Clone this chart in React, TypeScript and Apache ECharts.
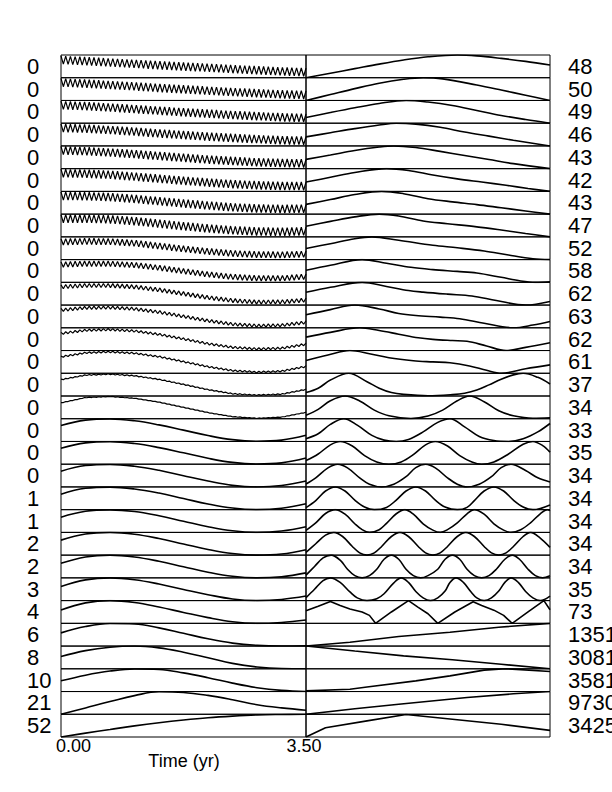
import React, { useEffect, useRef } from "react";
import * as echarts from "echarts";

const LEFT_LABELS = ["0","0","0","0","0","0","0","0","0","0","0","0","0","0","0","0","0","0","0","1","1","2","2","3","4","6","8","10","21","52"];
const RIGHT_LABELS = ["48","50","49","46","43","42","43","47","52","58","62","63","62","61","37","34","33","35","34","34","34","34","34","35","73","1351","3081","3581","9730","3425"];
const TIME_TICKS = ["0.00", "3.50"];
const X_TITLE = "Time (yr)";
const TIME_MAX = 3.5;
const TREND_TIMES = [0, 0.35, 0.7, 1.05, 1.4, 1.75, 2.1, 2.45, 2.8, 3.15, 3.5];

const LEFT_TREND = [
  [0.78,0.73,0.67,0.61,0.55,0.49,0.44,0.38,0.33,0.28,0.24],
  [0.79,0.74,0.68,0.62,0.55,0.49,0.43,0.37,0.32,0.27,0.24],
  [0.79,0.75,0.69,0.62,0.55,0.48,0.42,0.36,0.31,0.26,0.23],
  [0.79,0.76,0.70,0.63,0.55,0.48,0.41,0.35,0.30,0.25,0.23],
  [0.80,0.77,0.71,0.64,0.56,0.48,0.40,0.34,0.28,0.25,0.23],
  [0.80,0.78,0.73,0.65,0.56,0.47,0.39,0.32,0.27,0.24,0.23],
  [0.80,0.79,0.75,0.67,0.57,0.47,0.38,0.30,0.25,0.23,0.24],
  [0.80,0.80,0.77,0.69,0.58,0.47,0.37,0.29,0.24,0.22,0.25],
  [0.78,0.80,0.79,0.72,0.60,0.47,0.36,0.27,0.22,0.21,0.24],
  [0.78,0.82,0.82,0.76,0.64,0.49,0.35,0.24,0.18,0.18,0.25],
  [0.80,0.86,0.86,0.80,0.67,0.50,0.33,0.20,0.13,0.14,0.22],
  [0.78,0.88,0.89,0.83,0.69,0.50,0.31,0.16,0.09,0.11,0.24],
  [0.75,0.89,0.92,0.86,0.71,0.51,0.30,0.14,0.07,0.10,0.28],
  [0.72,0.90,0.94,0.88,0.73,0.51,0.29,0.12,0.05,0.09,0.30],
  [0.72,0.92,0.96,0.89,0.73,0.51,0.28,0.10,0.04,0.08,0.29],
  [0.70,0.93,0.98,0.90,0.73,0.50,0.27,0.09,0.02,0.07,0.28],
  [0.70,0.94,0.99,0.91,0.73,0.50,0.26,0.08,0.01,0.06,0.27],
  [0.70,0.94,0.99,0.91,0.73,0.50,0.26,0.08,0.01,0.06,0.27],
  [0.69,0.94,0.99,0.91,0.73,0.49,0.26,0.07,0.00,0.06,0.26],
  [0.68,0.94,0.99,0.91,0.73,0.49,0.25,0.07,0.00,0.06,0.26],
  [0.67,0.93,0.99,0.92,0.73,0.49,0.25,0.07,0.00,0.06,0.25],
  [0.66,0.93,1.00,0.92,0.73,0.49,0.25,0.07,0.00,0.05,0.24],
  [0.64,0.92,1.00,0.92,0.73,0.49,0.25,0.07,0.00,0.05,0.22],
  [0.62,0.91,1.00,0.92,0.73,0.49,0.26,0.07,0.00,0.05,0.20],
  [0.59,0.90,1.00,0.92,0.72,0.48,0.25,0.07,0.00,0.04,0.15],
  [0.58,0.86,0.99,0.97,0.80,0.56,0.32,0.13,0.03,0.00,0.01],
  [0.54,0.80,0.95,1.00,0.92,0.73,0.49,0.24,0.08,0.01,0.00],
  [0.47,0.72,0.90,0.99,0.97,0.82,0.61,0.37,0.17,0.05,0.00],
  [0.00,0.28,0.56,0.82,0.99,0.96,0.83,0.64,0.42,0.28,0.18],
  [0.00,0.17,0.33,0.49,0.63,0.75,0.85,0.92,0.97,0.99,1.00],
];

// seasonal ripple riding on the trend of the upper panels
const RIPPLE_AMP = [0.18,0.18,0.18,0.18,0.18,0.18,0.18,0.18,0.14,0.12,0.09,0.07,0.05,0.035,0.02,0.01,0,0,0,0,0,0,0,0,0,0,0,0,0,0];
const RIPPLE_CYCLES = 52;

const RIGHT_CURVES: number[][][] = [
  [[0,0],[0.1,0.2],[0.2,0.4],[0.3,0.6],[0.4,0.78],[0.5,0.92],[0.62,1],[0.7,0.96],[0.8,0.85],[0.9,0.72],[1,0.56]],
  [[0,0],[0.1,0.26],[0.2,0.52],[0.3,0.76],[0.4,0.93],[0.48,1],[0.56,0.95],[0.7,0.68],[0.8,0.46],[0.9,0.23],[1,0]],
  [[0,0.25],[0.1,0.47],[0.2,0.68],[0.3,0.87],[0.41,1],[0.5,0.93],[0.6,0.78],[0.7,0.56],[0.8,0.34],[0.9,0.16],[1,0]],
  [[0,0.4],[0.1,0.58],[0.2,0.76],[0.3,0.92],[0.37,1],[0.45,0.96],[0.55,0.82],[0.65,0.61],[0.75,0.43],[0.85,0.25],[1,0]],
  [[0,0.41],[0.1,0.6],[0.2,0.8],[0.3,0.95],[0.36,1],[0.45,0.93],[0.55,0.76],[0.65,0.58],[0.75,0.4],[0.85,0.22],[1,0]],
  [[0,0.41],[0.1,0.62],[0.2,0.83],[0.33,1],[0.42,0.92],[0.52,0.72],[0.62,0.55],[0.72,0.41],[0.82,0.27],[0.91,0.13],[1,0]],
  [[0,0.43],[0.1,0.64],[0.2,0.86],[0.31,1],[0.4,0.9],[0.5,0.68],[0.6,0.54],[0.7,0.42],[0.8,0.28],[0.9,0.14],[1,0]],
  [[0,0.47],[0.1,0.68],[0.2,0.88],[0.3,1],[0.38,0.92],[0.48,0.7],[0.58,0.58],[0.7,0.44],[0.8,0.3],[0.9,0.15],[1,0]],
  [[0,0.49],[0.1,0.7],[0.2,0.92],[0.27,1],[0.38,0.85],[0.52,0.63],[0.62,0.52],[0.73,0.38],[0.83,0.2],[0.93,0.04],[1,0]],
  [[0,0.53],[0.1,0.75],[0.23,1],[0.33,0.84],[0.43,0.66],[0.52,0.56],[0.62,0.48],[0.7,0.41],[0.8,0.22],[0.88,0.06],[0.94,0],[1,0.02]],
  [[0,0.56],[0.1,0.78],[0.23,1],[0.33,0.82],[0.42,0.64],[0.48,0.57],[0.58,0.48],[0.68,0.4],[0.78,0.2],[0.9,0],[1,0.16]],
  [[0,0.57],[0.1,0.8],[0.2,1],[0.3,0.83],[0.38,0.63],[0.45,0.54],[0.55,0.47],[0.63,0.4],[0.73,0.2],[0.85,0],[0.93,0.12],[1,0.28]],
  [[0,0.59],[0.1,0.8],[0.22,1],[0.3,0.88],[0.38,0.72],[0.46,0.56],[0.52,0.49],[0.6,0.44],[0.66,0.41],[0.74,0.2],[0.82,0],[0.9,0.14],[1,0.34]],
  [[0,0.56],[0.09,0.8],[0.18,1],[0.26,0.86],[0.34,0.68],[0.44,0.55],[0.52,0.5],[0.59,0.46],[0.67,0.32],[0.74,0.13],[0.8,0],[0.9,0.2],[1,0.37]],
  [[0,0.15],[0.05,0.34],[0.1,0.7],[0.175,1],[0.25,0.63],[0.3,0.34],[0.35,0.15],[0.4,0.07],[0.5,0.01],[0.6,0.06],[0.65,0.12],[0.7,0.26],[0.75,0.49],[0.8,0.74],[0.85,0.93],[0.89,1],[0.95,0.82],[1,0.53]],
  [[0,0.15],[0.05,0.41],[0.1,0.79],[0.16,1],[0.22,0.78],[0.28,0.38],[0.34,0.13],[0.43,0.01],[0.5,0.12],[0.56,0.38],[0.62,0.79],[0.67,1],[0.73,0.75],[0.79,0.35],[0.85,0.13],[0.93,0.02],[1,0.04]],
  [[0,0.12],[0.05,0.34],[0.1,0.75],[0.155,1],[0.21,0.72],[0.27,0.27],[0.32,0.06],[0.37,0],[0.42,0.09],[0.48,0.42],[0.54,0.84],[0.59,1],[0.65,0.64],[0.71,0.22],[0.77,0.04],[0.83,0],[0.89,0.12],[0.95,0.42],[1,0.79]],
  [[0,0.16],[0.05,0.45],[0.1,0.85],[0.14,1],[0.19,0.8],[0.24,0.38],[0.29,0.1],[0.34,0],[0.39,0.1],[0.44,0.42],[0.49,0.85],[0.53,1],[0.58,0.8],[0.63,0.38],[0.68,0.1],[0.72,0],[0.77,0.1],[0.83,0.45],[0.89,0.88],[0.93,1],[0.97,0.82],[1,0.53]],
  [[0,0.13],[0.04,0.4],[0.09,0.84],[0.13,1],[0.17,0.84],[0.22,0.4],[0.26,0.12],[0.31,0],[0.36,0.12],[0.41,0.45],[0.45,0.85],[0.49,1],[0.53,0.84],[0.58,0.4],[0.62,0.12],[0.66,0],[0.71,0.12],[0.76,0.45],[0.8,0.85],[0.84,1],[0.9,0.72],[0.95,0.4],[1,0.22]],
  [[0,0.09],[0.04,0.4],[0.08,0.82],[0.12,1],[0.16,0.82],[0.2,0.42],[0.24,0.12],[0.28,0],[0.33,0.1],[0.37,0.42],[0.41,0.82],[0.45,1],[0.49,0.82],[0.53,0.42],[0.57,0.12],[0.62,0],[0.66,0.1],[0.69,0.4],[0.73,0.82],[0.77,1],[0.81,0.82],[0.85,0.42],[0.89,0.12],[0.93,0],[1,0.21]],
  [[0,0.09],[0.04,0.42],[0.08,0.83],[0.12,1],[0.16,0.8],[0.2,0.38],[0.23,0.12],[0.26,0],[0.3,0.12],[0.33,0.4],[0.37,0.82],[0.405,1],[0.44,0.8],[0.48,0.38],[0.52,0.1],[0.55,0],[0.58,0.12],[0.62,0.42],[0.66,0.82],[0.69,1],[0.73,0.8],[0.77,0.38],[0.81,0.1],[0.84,0],[0.88,0.12],[0.92,0.42],[0.96,0.82],[0.99,1],[1,0.96]],
  [[0,0.12],[0.04,0.5],[0.08,0.88],[0.114,1],[0.15,0.82],[0.19,0.38],[0.22,0.1],[0.25,0],[0.28,0.1],[0.31,0.38],[0.35,0.82],[0.385,1],[0.42,0.82],[0.46,0.38],[0.49,0.1],[0.52,0],[0.55,0.1],[0.58,0.38],[0.62,0.82],[0.655,1],[0.69,0.82],[0.73,0.38],[0.76,0.1],[0.79,0],[0.82,0.1],[0.85,0.38],[0.89,0.82],[0.92,1],[0.96,0.75],[1,0.34]],
  [[0,0.12],[0.035,0.5],[0.07,0.88],[0.103,1],[0.14,0.78],[0.17,0.38],[0.2,0.1],[0.23,0],[0.26,0.1],[0.29,0.38],[0.32,0.82],[0.35,1],[0.38,0.82],[0.41,0.38],[0.44,0.1],[0.47,0],[0.5,0.1],[0.54,0.38],[0.57,0.82],[0.6,1],[0.63,0.82],[0.66,0.38],[0.69,0.1],[0.72,0],[0.75,0.1],[0.78,0.38],[0.815,0.82],[0.845,1],[0.875,0.82],[0.91,0.38],[0.94,0.1],[0.97,0],[1,0.09]],
  [[0,0.13],[0.035,0.5],[0.07,0.88],[0.1,1],[0.14,0.8],[0.18,0.38],[0.21,0.12],[0.25,0],[0.29,0.08],[0.32,0.3],[0.36,0.78],[0.39,1],[0.42,0.8],[0.45,0.4],[0.48,0.12],[0.51,0],[0.54,0.12],[0.57,0.42],[0.59,0.8],[0.615,1],[0.645,0.8],[0.675,0.4],[0.7,0.12],[0.73,0],[0.76,0.12],[0.79,0.42],[0.815,0.8],[0.84,1],[0.87,0.8],[0.9,0.4],[0.93,0.12],[0.96,0],[1,0.2]],
  [[0,0.55],[0.05,0.75],[0.1,0.96],[0.14,0.78],[0.18,0.63],[0.23,0.5],[0.26,0.35],[0.285,0],[0.35,0.5],[0.42,1],[0.46,0.7],[0.5,0.42],[0.54,0],[0.61,0.5],[0.685,0.95],[0.72,0.78],[0.77,0.58],[0.81,0.35],[0.845,0],[0.91,0.5],[0.975,1],[1,0.6]],
  [[0,0],[0.18,0.17],[0.38,0.42],[0.59,0.61],[0.79,0.83],[1,1]],
  [[0,1],[0.2,0.78],[0.4,0.57],[0.6,0.4],[0.8,0.2],[1,0]],
  [[0,0.03],[0.18,0.1],[0.25,0.2],[0.45,0.47],[0.59,0.69],[0.73,0.94],[0.82,1],[1,0.88]],
  [[0,0],[0.2,0.24],[0.38,0.44],[0.66,0.74],[0.85,0.9],[1,1]],
  [[0,0],[0.08,0.41],[0.25,0.71],[0.41,0.99],[0.6,0.78],[0.8,0.56],[1,0.29]],
];

const SHARP_RIGHT_ROWS = [24, 25, 26, 27, 28, 29];

function trendAt(row: number, t: number): number {
  const tr = LEFT_TREND[row];
  for (let k = 0; k < TREND_TIMES.length - 1; k++) {
    const a = TREND_TIMES[k], b = TREND_TIMES[k + 1];
    if (t <= b + 1e-9) {
      const f = (t - a) / (b - a);
      return tr[k] + (tr[k + 1] - tr[k]) * f;
    }
  }
  return tr[tr.length - 1];
}

function leftData(row: number): number[][] {
  const amp = RIPPLE_AMP[row];
  if (amp === 0) return TREND_TIMES.map((t, k) => [t, LEFT_TREND[row][k]]);
  const n = RIPPLE_CYCLES * 2;
  const out: number[][] = [];
  for (let k = 0; k <= n; k++) {
    const t = (TIME_MAX * k) / n;
    out.push([t, trendAt(row, t) + (k % 2 === 0 ? amp : -amp)]);
  }
  return out;
}

export default function App() {
  const ref = useRef<HTMLDivElement>(null);
  useEffect(() => {
    if (!ref.current) return;
    const chart = echarts.init(ref.current, null, { renderer: "svg" });
    const TOP = 55, BOTTOM = 737, LEFT = 61, MID = 306, RIGHT = 550;
    const ROWS = LEFT_LABELS.length;
    const ROW_H = (BOTTOM - TOP) / ROWS;
    const grids: any[] = [], xAxes: any[] = [], yAxes: any[] = [], series: any[] = [];
    const graphics: any[] = [];
    const font = "Liberation Sans, Arial, Helvetica, sans-serif";
    for (let i = 0; i < ROWS; i++) {
      const top = TOP + i * ROW_H;
      const gl = grids.length;
      grids.push({ left: LEFT, top, width: MID - LEFT, height: ROW_H, show: true, borderColor: "#000", borderWidth: 1, backgroundColor: "transparent" });
      xAxes.push({ type: "value", gridIndex: gl, min: 0, max: TIME_MAX, show: false });
      yAxes.push({ type: "value", gridIndex: gl, min: 0, max: 1, show: false });
      const rip = RIPPLE_AMP[i] > 0;
      series.push({
        type: "line", xAxisIndex: gl, yAxisIndex: gl, data: leftData(i), showSymbol: false, silent: true,
        smooth: rip ? false : 0.4, lineStyle: { color: "#000", width: rip ? 1.2 : 1.6 },
      });
      const gr = grids.length;
      grids.push({ left: MID, top, width: RIGHT - MID, height: ROW_H, show: true, borderColor: "#000", borderWidth: 1, backgroundColor: "transparent" });
      xAxes.push({ type: "value", gridIndex: gr, min: 0, max: 1, show: false });
      yAxes.push({ type: "value", gridIndex: gr, min: 0, max: 1, show: false });
      series.push({
        type: "line", xAxisIndex: gr, yAxisIndex: gr, data: RIGHT_CURVES[i], showSymbol: false, silent: true,
        smooth: SHARP_RIGHT_ROWS.includes(i) ? false : 0.35, lineStyle: { color: "#000", width: 1.6 },
      });
      const yc = top + ROW_H / 2;
      graphics.push({ type: "text", x: 27, y: yc, silent: true, style: { text: LEFT_LABELS[i], fontSize: 22, fontFamily: font, fill: "#000", align: "left", verticalAlign: "middle", textAlign: "left", textVerticalAlign: "middle" } });
      graphics.push({ type: "text", x: 568, y: yc, silent: true, style: { text: RIGHT_LABELS[i], fontSize: 22, fontFamily: font, fill: "#000", align: "left", verticalAlign: "middle", textAlign: "left", textVerticalAlign: "middle" } });
    }
    graphics.push({ type: "text", x: 56, y: 746, silent: true, style: { text: TIME_TICKS[0], fontSize: 18, fontFamily: font, fill: "#000", align: "left", verticalAlign: "middle", textAlign: "left", textVerticalAlign: "middle" } });
    graphics.push({ type: "text", x: 304, y: 746, silent: true, style: { text: TIME_TICKS[1], fontSize: 18, fontFamily: font, fill: "#000", align: "center", verticalAlign: "middle", textAlign: "center", textVerticalAlign: "middle" } });
    graphics.push({ type: "text", x: 184, y: 761, silent: true, style: { text: X_TITLE, fontSize: 18, fontFamily: font, fill: "#000", align: "center", verticalAlign: "middle", textAlign: "center", textVerticalAlign: "middle" } });

    chart.setOption({
      animation: false,
      backgroundColor: "#fff",
      grid: grids,
      xAxis: xAxes,
      yAxis: yAxes,
      series,
      graphic: graphics,
    });
    return () => chart.dispose();
  }, []);
  return <div ref={ref} style={{ position: "absolute", left: 0, top: 0, width: 612, height: 792 }} />;
}
